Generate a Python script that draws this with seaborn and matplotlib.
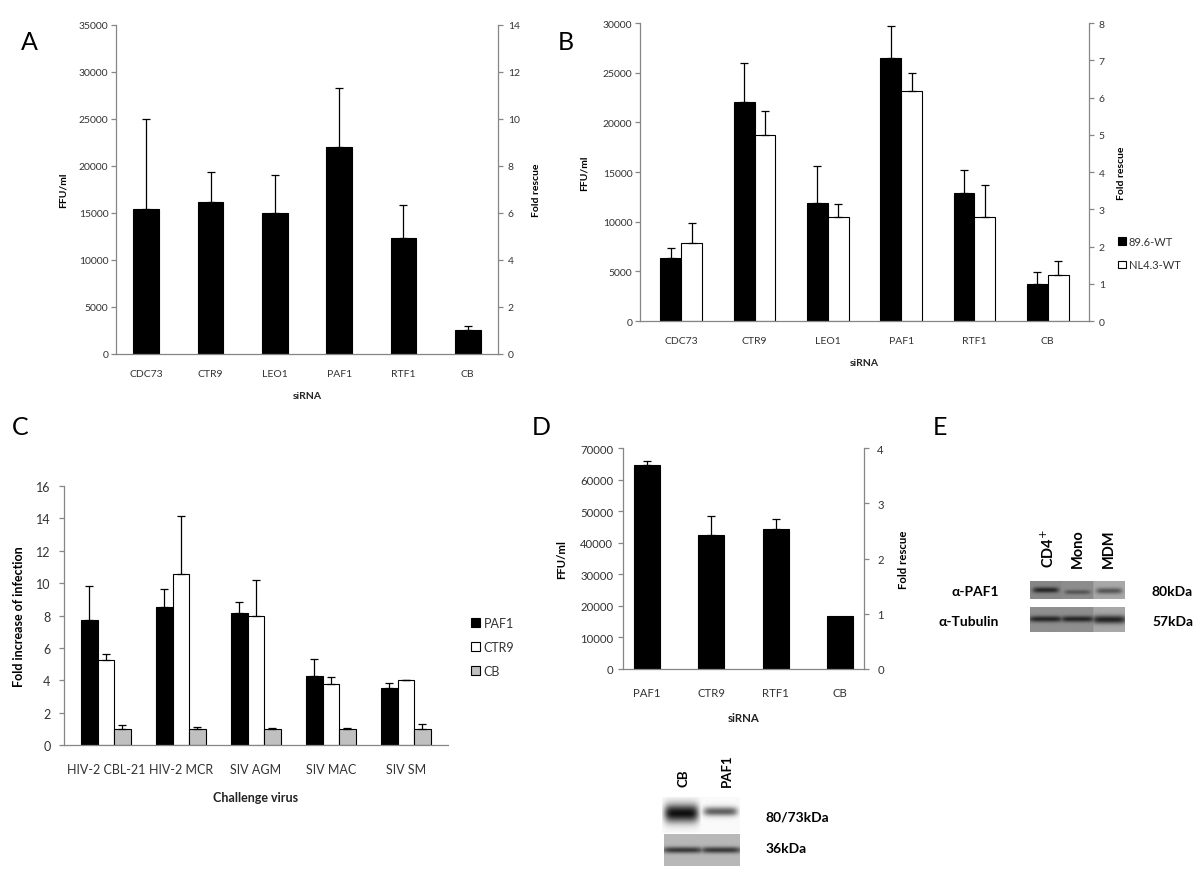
import numpy as np
import pandas as pd
import seaborn as sns
import matplotlib.pyplot as plt
from matplotlib.patches import Patch

# ---- data ----
# A: FFU/ml per siRNA
a_sirna = ['CDC73', 'CTR9', 'LEO1', 'PAF1', 'RTF1', 'CB']
a_ffu = [15400, 16200, 15000, 22000, 12300, 2500]
a_err = [9600, 3100, 4000, 6300, 3500, 500]

# B: two viruses
b_viruses = ['89.6-WT', 'NL4.3-WT']
b_896 = [6300, 22000, 11900, 26500, 12900, 3750]
b_896_err = [1000, 4000, 3700, 3200, 2300, 1200]
b_nl43 = [7900, 18700, 10500, 23200, 10500, 4600]
b_nl43_err = [2000, 2400, 1300, 1800, 3200, 1400]

# C: fold increase per challenge virus
c_viruses = ['HIV-2 CBL-21', 'HIV-2 MCR', 'SIV AGM', 'SIV MAC', 'SIV SM']
c_sirna = ['PAF1', 'CTR9', 'CB']
c_paf1 = [7.7, 8.55, 8.15, 4.25, 3.5]
c_paf1_err = [2.1, 1.1, 0.7, 1.05, 0.3]
c_ctr9 = [5.25, 10.55, 7.95, 3.75, 4.0]
c_ctr9_err = [0.4, 3.6, 2.25, 0.45, 0.03]
c_cb = [1.0, 1.0, 1.0, 1.0, 1.0]
c_cb_err = [0.25, 0.1, 0.05, 0.05, 0.3]

# D: FFU/ml
d_sirna = ['PAF1', 'CTR9', 'RTF1', 'CB']
d_ffu = [64500, 42300, 44300, 16800]
d_err = [1500, 6200, 3200, 0]

# western blots (band darkness per lane)
e_lanes = ['CD4$^{+}$', 'Mono', 'MDM']
e_paf1_bg = [0.53, 0.55, 0.66]
e_paf1_band = [0.38, 0.22, 0.32]
e_tub_bg = [0.56, 0.56, 0.66]
e_tub_band = [0.42, 0.42, 0.52]
d_blot_lanes = ['CB', 'PAF1']
d_blot_band = [0.92, 0.6]
d_blot_load = [0.5, 0.5]

# ---- figure ----
sns.set_theme(style='white')
plt.rcParams['font.family'] = ['Lato', 'DejaVu Sans']

W, H = 1200, 879
fig = plt.figure(figsize=(W / 100, H / 100), dpi=100)
GRAY = '#868686'
TXT = '#333333'


def box(x0, y0, x1, y1):
    return fig.add_axes([x0 / W, 1 - y1 / H, (x1 - x0) / W, (y1 - y0) / H])


def style(ax, fs, xpad, ypad, ymax, ystep):
    for s in ['top', 'right']:
        ax.spines[s].set_visible(False)
    for s in ['left', 'bottom']:
        ax.spines[s].set_color(GRAY)
        ax.spines[s].set_linewidth(0.9)
    ax.set_ylim(0, ymax)
    ax.set_yticks(np.arange(0, ymax + 1e-9, ystep))
    ax.tick_params(axis='y', left=True, direction='out', length=3.5, width=0.9,
                   color=GRAY, labelsize=fs, labelcolor=TXT, pad=ypad)
    ax.tick_params(axis='x', bottom=False, length=0, labelsize=fs,
                   labelcolor=TXT, pad=xpad)


def twin(ax, top, fs, pad, label_x):
    tw = ax.twinx()
    tw.set_ylim(0, top)
    tw.set_yticks(range(0, top + 1, 2 if top > 8 else 1))
    for s in ['top', 'left', 'bottom']:
        tw.spines[s].set_visible(False)
    tw.spines['right'].set_color(GRAY)
    tw.spines['right'].set_linewidth(0.9)
    tw.tick_params(axis='y', right=True, direction='out', length=3.5, width=0.9,
                   color=GRAY, labelsize=fs, labelcolor=TXT, pad=pad)
    tw.grid(False)
    tw.set_ylabel('Fold rescue', fontsize=fs, fontweight='bold', color='black')
    tw.yaxis.set_label_coords(1 + label_x, 0.5)
    return tw


def add_err(ax, errs_list):
    for cont, errs in zip(ax.containers, errs_list):
        for bar, e in zip(cont, errs):
            if e <= 0:
                continue
            x = bar.get_x() + bar.get_width() / 2
            ax.errorbar(x, bar.get_height(), yerr=[[0], [e]], fmt='none',
                        ecolor='black', elinewidth=0.9, capsize=3, capthick=0.9)


def ylab(ax, text, fs, xf, yf=0.5):
    ax.set_ylabel(text, fontsize=fs, fontweight='bold', color='black')
    ax.yaxis.set_label_coords(xf, yf)


def xlab(ax, text, fs, yf, xf=0.5):
    ax.set_xlabel(text, fontsize=fs, fontweight='bold', color='#222222')
    ax.xaxis.set_label_coords(xf, yf)


# ---- A ----
axA = box(116, 25.7, 498, 355)
df_a = pd.DataFrame({'siRNA': a_sirna, 'FFU/ml': a_ffu})
sns.barplot(data=df_a, x='siRNA', y='FFU/ml', color='black', saturation=1,
            width=0.4, edgecolor='black', linewidth=0.8, errorbar=None, ax=axA)
add_err(axA, [a_err])
style(axA, 7.5, 10.5, 2, 35000, 5000)
xlab(axA, 'siRNA', 7.5, -0.112)
ylab(axA, 'FFU/ml', 7.5, -0.127)
twin(axA, 14, 7.5, 3.5, 0.09)

# ---- B ----
axB = box(640, 24, 1089, 322)
df_b = pd.DataFrame({
    'siRNA': a_sirna * 2,
    'virus': [b_viruses[0]] * 6 + [b_viruses[1]] * 6,
    'FFU/ml': b_896 + b_nl43,
})
sns.barplot(data=df_b, x='siRNA', y='FFU/ml', hue='virus', hue_order=b_viruses,
            palette=['black', 'white'], saturation=1, width=0.57,
            edgecolor='black', linewidth=0.8, errorbar=None, legend=False, ax=axB)
add_err(axB, [b_896_err, b_nl43_err])
style(axB, 7.5, 10.5, 2, 30000, 5000)
xlab(axB, 'siRNA', 7.5, -0.124)
ylab(axB, 'FFU/ml', 7.5, -0.114)
twin(axB, 8, 7.5, 3.5, 0.063)
fig.legend(handles=[Patch(facecolor=c, edgecolor='black', linewidth=0.8, label=l)
                    for c, l in zip(['black', 'white'], b_viruses)],
           loc='center left', bbox_to_anchor=(1118 / W, 1 - 254 / H),
           frameon=False, fontsize=8, handlelength=0.7, handleheight=0.7,
           handletextpad=0.25, labelspacing=1.15, borderpad=0, borderaxespad=0,
           labelcolor=TXT)

# ---- C ----
axC = box(63.6, 487, 448, 746)
df_c = pd.DataFrame({
    'virus': c_viruses * 3,
    'siRNA': [s for s in c_sirna for _ in c_viruses],
    'fold': c_paf1 + c_ctr9 + c_cb,
})
sns.barplot(data=df_c, x='virus', y='fold', hue='siRNA', hue_order=c_sirna,
            palette=['black', 'white', '#c0c0c0'], saturation=1, width=0.66,
            edgecolor='black', linewidth=0.8, errorbar=None, legend=False, ax=axC)
add_err(axC, [c_paf1_err, c_ctr9_err, c_cb_err])
style(axC, 9, 13, 6, 16, 2)
xlab(axC, 'Challenge virus', 9, -0.178)
ylab(axC, 'Fold increase of infection', 9, -0.100)
fig.legend(handles=[Patch(facecolor=c, edgecolor='black', linewidth=0.8, label=l)
                    for c, l in zip(['black', 'white', '#c0c0c0'], c_sirna)],
           loc='center left', bbox_to_anchor=(471 / W, 1 - 648 / H),
           frameon=False, fontsize=9, handlelength=0.7, handleheight=0.7,
           handletextpad=0.3, labelspacing=0.95, borderpad=0, borderaxespad=0,
           labelcolor=TXT)

# ---- D ----
axD = box(623, 449, 864, 670)
df_d = pd.DataFrame({'siRNA': d_sirna, 'FFU/ml': d_ffu})
sns.barplot(data=df_d, x='siRNA', y='FFU/ml', color='black', saturation=1,
            width=0.4, edgecolor='black', linewidth=0.8, errorbar=None, ax=axD)
add_err(axD, [d_err])
style(axD, 8.2, 13, 3.5, 70000, 10000)
xlab(axD, 'siRNA', 8.2, -0.195)
ylab(axD, 'FFU/ml', 8.2, -0.230)
twin(axD, 4, 8.2, 6, 0.141)


# ---- blots ----
def blot_img(bg, depth, centre, sig, width=0.85, nx=40, ny=40):
    y = np.linspace(0, 1, ny)[:, None]
    x = np.linspace(-1, 1, nx)[None, :]
    lanes = []
    for b, d, c, s in zip(bg, depth, centre, sig):
        prof = np.exp(-(np.abs(x) / width) ** 6) * np.exp(-((y - c) / s) ** 2)
        lanes.append(b - d * prof)
    return np.clip(np.hstack(lanes), 0, 1)


def show_blot(x0, y0, x1, y1, img):
    ax = box(x0, y0, x1, y1)
    ax.imshow(img, cmap='gray', vmin=0, vmax=1, aspect='auto',
              interpolation='bilinear')
    ax.axis('off')


# E blot
show_blot(1030, 582, 1125, 600,
          blot_img(e_paf1_bg, e_paf1_band, [0.5, 0.62, 0.55], [0.16, 0.13, 0.17]))
show_blot(1030, 608, 1125, 633,
          blot_img(e_tub_bg, e_tub_band, [0.5, 0.5, 0.52], [0.12, 0.12, 0.16], width=1.1))
bold = dict(fontweight='bold', color='black')
for xc, lab in zip([1048, 1078, 1109], e_lanes):
    fig.text(xc / W, 1 - 568 / H, lab, rotation=90, ha='center', va='bottom',
             fontsize=10.5, **bold)
fig.text(999 / W, 1 - 592 / H, 'α-PAF1', ha='right', va='center', fontsize=10, **bold)
fig.text(999 / W, 1 - 622 / H, 'α-Tubulin', ha='right', va='center', fontsize=10, **bold)
fig.text(1152 / W, 1 - 592 / H, '80kDa', ha='left', va='center', fontsize=10, **bold)
fig.text(1152 / W, 1 - 622 / H, '57kDa', ha='left', va='center', fontsize=10, **bold)

# D blot
show_blot(662, 798, 740, 834,
          blot_img([0.98, 0.98], d_blot_band, [0.45, 0.4], [0.26, 0.13], width=0.9))
show_blot(664, 835, 740, 867,
          blot_img([0.72, 0.72], d_blot_load, [0.5, 0.5], [0.1, 0.1], width=1.1))
for xc, lab in zip([684, 727], d_blot_lanes):
    fig.text(xc / W, 1 - 787 / H, lab, rotation=90, ha='center', va='bottom',
             fontsize=9.5, **bold)
fig.text(766 / W, 1 - 818 / H, '80/73kDa', ha='left', va='center', fontsize=10, **bold)
fig.text(766 / W, 1 - 849 / H, '36kDa', ha='left', va='center', fontsize=10, **bold)

# panel letters
for x, y, l in [(29, 43, 'A'), (566, 43, 'B'), (20, 428, 'C'), (541, 428, 'D'), (940, 428, 'E')]:
    fig.text(x / W, 1 - y / H, l, ha='center', va='center', fontsize=18, color='black')

fig.savefig('out.png', dpi=100)
